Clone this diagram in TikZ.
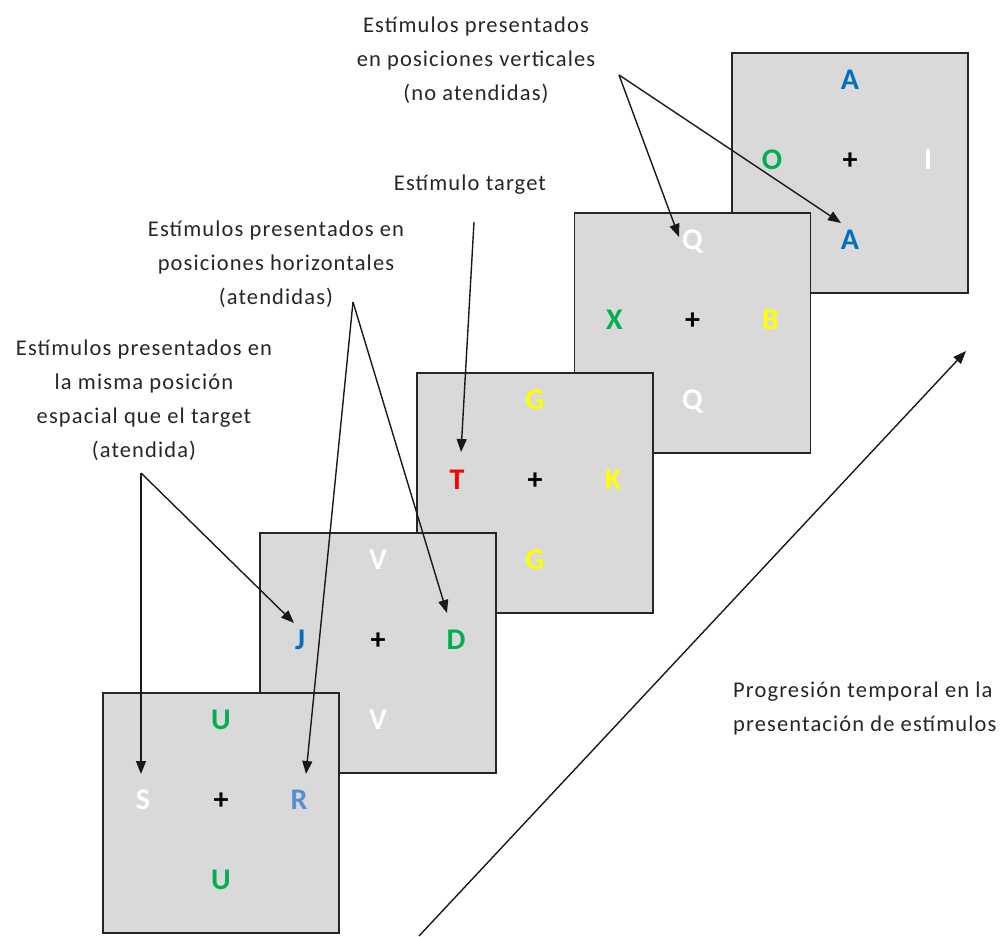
\documentclass[tikz,border=0pt]{standalone}
\usepackage{fontspec}
\setmainfont{Carlito}
\newfontfamily\labfont[LetterSpace=5]{Carlito}
\usetikzlibrary{arrows.meta}
\definecolor{panelgray}{HTML}{D9D9D9}
\definecolor{stgreen}{HTML}{00B050}
\definecolor{stblue}{HTML}{0070C0}
\definecolor{stlightblue}{HTML}{558ED5}
\definecolor{styellow}{HTML}{FFFF00}
\definecolor{stred}{HTML}{FF0000}

% One stimulus display: name, top-left corner, vertical letter and colour,
% left letter and colour, right letter and colour
\newcommand\stimpanel[9]{%
  \node[panel, anchor=north west] (#1) at (#2,#3) {};
  \begin{scope}[shift={(#2,#3)}]
    \node[stim, text=#5] (#1-top)   at (118,27)  {#4};
    \node[stim, text=#7] (#1-left)  at (40,107)  {#6};
    \node[stim]          (#1-fix)   at (118,107) {+};
    \node[stim, text=#9] (#1-right) at (196,107) {#8};
    \node[stim, text=#5] (#1-bot)   at (118,187) {#4};
  \end{scope}}

\begin{document}
\begin{tikzpicture}[x=1pt, y=-1pt,
  panel/.style={draw=black!85, line width=1.5pt, fill=panelgray,
    minimum width=236pt, minimum height=240pt, inner sep=0pt, outer sep=0pt},
  stim/.style={font=\fontsize{30}{30}\bfseries\selectfont, inner sep=0pt,
    text height=19.3pt, text depth=0pt},
  caption/.style={font=\labfont\fontsize{22.5}{34}\selectfont, align=center,
    text=black!85, inner sep=0pt},
  pointer/.style={draw=black!90, line width=1.4pt,
    -{Triangle[length=13pt, width=10pt]}}]

\useasboundingbox (0,0) rectangle (1008,936);

% displays, from the last (back) to the first (front)
\stimpanel{p5}{732}{53}{A}{stblue}{O}{stgreen}{I}{white}
\stimpanel{p4}{574.5}{213}{Q}{white}{X}{stgreen}{B}{styellow}
\stimpanel{p3}{417}{373}{G}{styellow}{T}{stred}{K}{styellow}
\stimpanel{p2}{260}{533}{V}{white}{J}{stblue}{D}{stgreen}
\stimpanel{p1}{103}{693}{U}{stgreen}{S}{white}{R}{stlightblue}

% vertical (unattended) positions
\node[caption] (capV) at (476,60)
  {Estímulos presentados\\en posiciones verticales\\(no atendidas)};
\coordinate (apexV) at (619,75);
\coordinate (tipQ) at (679,237);
\coordinate (tipA) at (841,223);
\draw[pointer] (apexV) -- (tipQ);
\draw[pointer] (apexV) -- (tipA);

% target
\node[caption] (capT) at (470,185) {Estímulo target};
\coordinate (startT) at (474,222);
\coordinate (tipT) at (461,452);
\draw[pointer] (startT) -- (tipT);

% horizontal (attended) positions
\node[caption] (capH) at (276,264)
  {Estímulos presentados en\\posiciones horizontales\\(atendidas)};
\coordinate (apexH) at (353,302);
\coordinate (tipD) at (447,613);
\coordinate (tipR) at (306,774);
\draw[pointer] (apexH) -- (tipD);
\draw[pointer] (apexH) -- (tipR);

% same spatial position as the target
\node[caption] (capS) at (144,400)
  {Estímulos presentados en\\la misma posición\\espacial que el target\\(atendida)};
\coordinate (apexS) at (141,473);
\coordinate (tipS) at (141,774);
\coordinate (tipJ) at (294,623);
\draw[pointer] (apexS) -- (tipS);
\draw[pointer] (apexS) -- (tipJ);

% time axis
\coordinate (timeStart) at (419,936);
\coordinate (timeEnd) at (966,351);
\draw[pointer] (timeStart) -- (timeEnd);
\node[caption, align=left, anchor=west] (capTime) at (733,708)
  {Progresión temporal en la\\presentación de estímulos};

\end{tikzpicture}
\end{document}
